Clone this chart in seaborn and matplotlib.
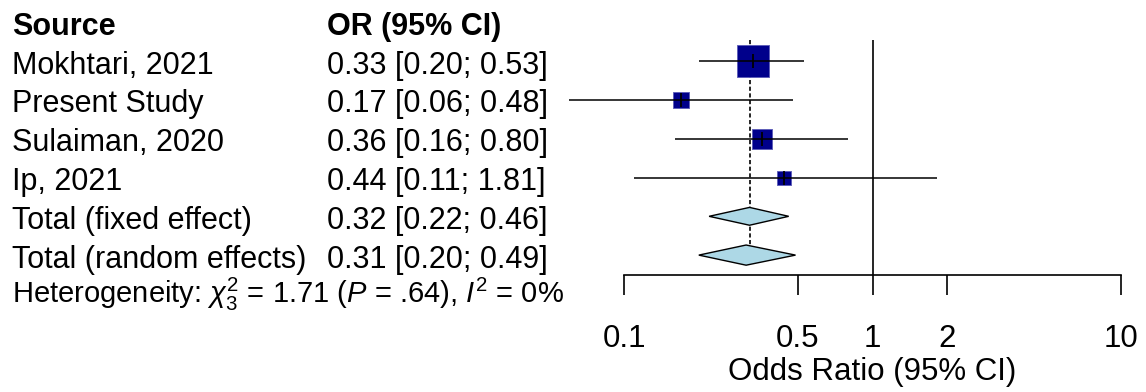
import numpy as np
import pandas as pd
import matplotlib
matplotlib.use("Agg")
import matplotlib.pyplot as plt
import matplotlib.transforms as mtransforms
import seaborn as sns

# data
studies = ["Mokhtari, 2021", "Present Study", "Sulaiman, 2020", "Ip, 2021"]
study_or = [0.33, 0.17, 0.36, 0.44]
study_lo = [0.20, 0.06, 0.16, 0.11]
study_hi = [0.53, 0.48, 0.80, 1.81]
study_w = [54.6, 13.6, 21.3, 10.4]  # estimated from square sizes

pooled = ["Total (fixed effect)", "Total (random effects)"]
pooled_or = [0.32, 0.31]
pooled_lo = [0.22, 0.20]
pooled_hi = [0.46, 0.49]

ticks = [0.1, 0.5, 1, 2, 10]
tick_labels = ["0.1", "0.5", "1", "2", "10"]
het_text = r"Heterogeneity: $\chi^2_3$ = 1.71 ($P$ = .64), $I^2$ = 0%"

df = pd.DataFrame({"study": studies, "or": study_or, "lo": study_lo,
                   "hi": study_hi, "w": study_w, "row": range(len(studies))})

sns.set_theme(style="white")
plt.rcParams["font.family"] = ["Liberation Sans", "DejaVu Sans"]
plt.rcParams["mathtext.fontset"] = "custom"
plt.rcParams["mathtext.rm"] = "Liberation Sans"
plt.rcParams["mathtext.it"] = "Liberation Sans:italic"
plt.rcParams["text.color"] = "black"
plt.rcParams["xtick.color"] = "black"
plt.rcParams["axes.labelcolor"] = "black"

W, H = 1146, 392
fig = plt.figure(figsize=(W / 100, H / 100), dpi=100)
ax = fig.add_axes([624 / W, (H - 274.5) / H, (1121 - 624) / W, 271.5 / H])
ax.set_xscale("log")
ax.set_xlim(0.1, 10)
ax.set_ylim(5.5, -1.5)

# reference lines
ax.vlines(1, -0.55, 5.5, color="black", lw=1.2, zorder=1)
ax.vlines(pooled_or[0], -0.55, 4.75, color="black", lw=1.2,
          linestyles=(0, (2.5, 1.5)), zorder=1)

# study squares, then CI lines drawn over them
sns.scatterplot(data=df, x="or", y="row", size="w", sizes=(10.4 * 9.7, 54.6 * 9.7),
                marker="s", color="#00008B", edgecolor="#5a5ab8", linewidth=0.6,
                legend=False, ax=ax, zorder=3)
ax.hlines(df["row"], df["lo"], df["hi"], color="black", lw=1.1, zorder=4, clip_on=False)
ax.scatter(df["or"], df["row"], marker="|", s=90, color="black", lw=1.3, zorder=4)

# pooled diamonds
for i, (m, lo, hi) in enumerate(zip(pooled_or, pooled_lo, pooled_hi)):
    r = len(studies) + i
    h = 0.23 if i == 0 else 0.26
    ax.fill([lo, m, hi, m, lo], [r, r - h, r, r + h, r], facecolor="#ADD8E6",
            edgecolor="black", lw=1.0, zorder=3)

# axis styling
for s in ["top", "left", "right"]:
    ax.spines[s].set_visible(False)
ax.spines["bottom"].set_color("black")
ax.spines["bottom"].set_linewidth(1.2)
ax.set_yticks([])
ax.set_ylabel("")
ax.set_xticks(ticks)
ax.set_xticklabels(tick_labels)
ax.xaxis.set_minor_locator(matplotlib.ticker.NullLocator())
ax.tick_params(axis="x", direction="out", length=14.5, width=1.2, color="black",
               labelsize=22.5, pad=21, bottom=True)
ax.set_xlabel("Odds Ratio (95% CI)", fontsize=22.5, labelpad=2)

# text columns
tr = mtransforms.blended_transform_factory(fig.transFigure, ax.transData)
fs = 22
base = 0.32
ax.text(12 / W, -1 + base, "Source", transform=tr, fontsize=fs, fontweight="bold",
        va="baseline")
ax.text(327 / W, -1 + base, "OR (95% CI)", transform=tr, fontsize=fs,
        fontweight="bold", va="baseline")
labels = studies + pooled
ors = study_or + pooled_or
los = study_lo + pooled_lo
his = study_hi + pooled_hi
for i, (lab, m, lo, hi) in enumerate(zip(labels, ors, los, his)):
    ax.text(12 / W, i + base, lab, transform=tr, fontsize=fs, va="baseline")
    ax.text(327 / W, i + base, f"{m:.2f} [{lo:.2f}; {hi:.2f}]", transform=tr,
            fontsize=fs, va="baseline")
ax.text(12 / W, 6.24, het_text, transform=tr, fontsize=21, va="baseline")

fig.savefig("out.png", dpi=100)
